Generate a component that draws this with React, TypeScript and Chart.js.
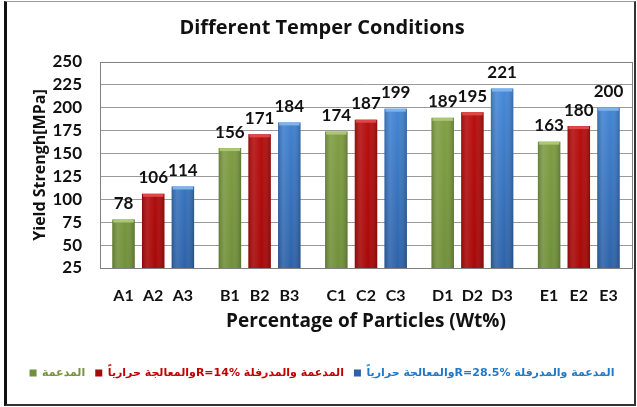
import React, { useEffect, useRef } from 'react';
import { Chart, registerables } from 'chart.js';

Chart.register(...registerables);

// ---- data ----
const groups = ['A', 'B', 'C', 'D', 'E'];
const tickLabels = [
  'A1', 'A2', 'A3',
  'B1', 'B2', 'B3',
  'C1', 'C2', 'C3',
  'D1', 'D2', 'D3',
  'E1', 'E2', 'E3',
];
const seriesNames = [
  'المدعمة',
  'المدعمة والمدرفلة R=14%والمعالجة حرارياً',
  'المدعمة والمدرفلة R=28.5%والمعالجة حرارياً',
];
const supportedValues = [78, 156, 174, 189, 163];
const rolled14Values = [106, 171, 187, 195, 180];
const rolled285Values = [114, 184, 199, 221, 200];
const yMin = 25;
const yMax = 250;
const yStep = 25;

// ---- styles ----
const LATO = 'Lato, "Open Sans", sans-serif';
const OPEN = '"Open Sans", Lato, sans-serif';
const barTop = ['#86a548', '#bd1212', '#4a8fe0'];
const barBottom = ['#71903a', '#a80808', '#2d62a8'];
const capColors = ['#a9c774', '#e04848', '#7db3ee'];
const legendColors = ['#76923c', '#c00000', '#1f78c8'];
const PAD_LEFT = 12;

function vGrad(top: string, bottom: string) {
  return (c: any) => {
    const area = c.chart.chartArea;
    if (!area) return bottom;
    const g = c.chart.ctx.createLinearGradient(0, area.top, 0, area.bottom);
    g.addColorStop(0, top);
    g.addColorStop(1, bottom);
    return g;
  };
}

const decorPlugin = {
  id: 'decor',
  beforeDatasetsDraw(chart: any) {
    const { ctx, chartArea } = chart;
    ctx.save();
    ctx.strokeStyle = '#808080';
    ctx.lineWidth = 1;
    ctx.strokeRect(
      Math.round(chartArea.left) + 0.5,
      Math.round(chartArea.top) + 0.5,
      Math.round(chartArea.right - chartArea.left),
      Math.round(chartArea.bottom - chartArea.top)
    );
    ctx.restore();
  },
  afterDatasetsDraw(chart: any) {
    const { ctx, chartArea } = chart;
    ctx.save();
    chart.data.datasets.forEach((ds: any, di: number) => {
      const meta = chart.getDatasetMeta(di);
      meta.data.forEach((bar: any, j: number) => {
        const { x, y, base, width } = bar.getProps(['x', 'y', 'base', 'width'], true);
        const bottom = Math.min(base, chartArea.bottom);
        const l = x - width / 2;
        const g = ctx.createLinearGradient(l, 0, l + width, 0);
        g.addColorStop(0, 'rgba(0,0,0,0.18)');
        g.addColorStop(0.25, 'rgba(255,255,255,0.10)');
        g.addColorStop(0.6, 'rgba(255,255,255,0.0)');
        g.addColorStop(1, 'rgba(0,0,0,0.22)');
        ctx.fillStyle = g;
        ctx.fillRect(l, y, width, bottom - y);
        ctx.fillStyle = capColors[di];
        ctx.fillRect(l + 1, y, width - 2, 3);

        // value label
        ctx.fillStyle = '#111';
        ctx.font = `bold 17px ${LATO}`;
        ctx.textAlign = 'center';
        ctx.textBaseline = 'middle';
        ctx.fillText(String(ds.data[j]), x, y - 16);

        // category tick label under each bar
        ctx.font = `bold 16px ${LATO}`;
        ctx.fillText(tickLabels[j * 3 + di], x, chartArea.bottom + 28);
      });
    });
    ctx.restore();
  },
};

export default function App() {
  const ref = useRef<HTMLCanvasElement | null>(null);

  useEffect(() => {
    if (!ref.current) return;
    const chart = new Chart(ref.current, {
      type: 'bar',
      data: {
        labels: groups,
        datasets: [
          { label: seriesNames[0], data: supportedValues, backgroundColor: vGrad(barTop[0], barBottom[0]), borderWidth: 0 },
          { label: seriesNames[1], data: rolled14Values, backgroundColor: vGrad(barTop[1], barBottom[1]), borderWidth: 0 },
          { label: seriesNames[2], data: rolled285Values, backgroundColor: vGrad(barTop[2], barBottom[2]), borderWidth: 0 },
        ],
      },
      options: {
        responsive: false,
        animation: false,
        layout: { padding: { top: 0, left: PAD_LEFT, right: 5, bottom: 18.5 } },
        datasets: { bar: { categoryPercentage: 0.837, barPercentage: 0.757 } },
        scales: {
          x: {
            ticks: { display: false },
            grid: { display: false, drawTicks: false },
            border: { display: true, color: '#808080' },
            title: {
              display: true,
              text: 'Percentage of Particles (Wt%)',
              color: '#111',
              font: { family: OPEN, size: 19, weight: 'bold' },
              padding: { top: 0, bottom: 24.1 },
            },
            afterFit: (s: any) => { s.height = 89.5; },
          },
          y: {
            min: yMin,
            max: yMax,
            ticks: {
              stepSize: yStep,
              autoSkip: false,
              color: '#111',
              padding: 18,
              font: { family: LATO, size: 17, weight: 'bold', lineHeight: 1 },
            },
            grid: { color: '#9a9a9a', drawTicks: false },
            border: { display: true, color: '#808080' },
            title: {
              display: true,
              text: 'Yield Strengh[MPa]',
              color: '#111',
              font: { family: OPEN, size: 16, weight: 'bold' },
              padding: { top: 40 - PAD_LEFT - 9.6, bottom: 0 },
            },
            afterFit: (s: any) => { s.width = 100 - PAD_LEFT; },
          },
        },
        plugins: {
          title: {
            display: true,
            text: 'Different Temper Conditions',
            color: '#111',
            font: { family: OPEN, size: 20, weight: 'bold' },
            padding: { top: 16, bottom: 22 },
          },
          legend: {
            position: 'bottom',
            textDirection: 'rtl',
            labels: {
              boxWidth: 7,
              boxHeight: 7,
              padding: 10,
              font: { family: '"DejaVu Sans", sans-serif', size: 11, weight: 'bold' },
              generateLabels: (c: any) => {
                const items = (Chart.defaults.plugins.legend.labels as any).generateLabels(c);
                items.forEach((it: any, i: number) => {
                  it.fontColor = legendColors[i];
                  it.fillStyle = barBottom[i];
                  it.lineWidth = 0;
                });
                return items;
              },
            },
          },
          tooltip: { enabled: false },
        },
      },
      plugins: [decorPlugin],
    } as any);
    return () => chart.destroy();
  }, []);

  return (
    <div style={{ position: 'absolute', left: 0, top: 0, width: 637, height: 407, background: '#fff' }}>
      <canvas ref={ref} width={637} height={407} style={{ position: 'absolute', left: 0, top: 0 }} />
      <div
        style={{
          position: 'absolute',
          left: 4,
          top: 1,
          width: 632,
          height: 405,
          boxSizing: 'border-box',
          borderLeft: '3px solid #111',
          borderTop: '1px solid #999',
          borderRight: '2px solid #333',
          borderBottom: '2px solid #333',
          pointerEvents: 'none',
        }}
      />
    </div>
  );
}
